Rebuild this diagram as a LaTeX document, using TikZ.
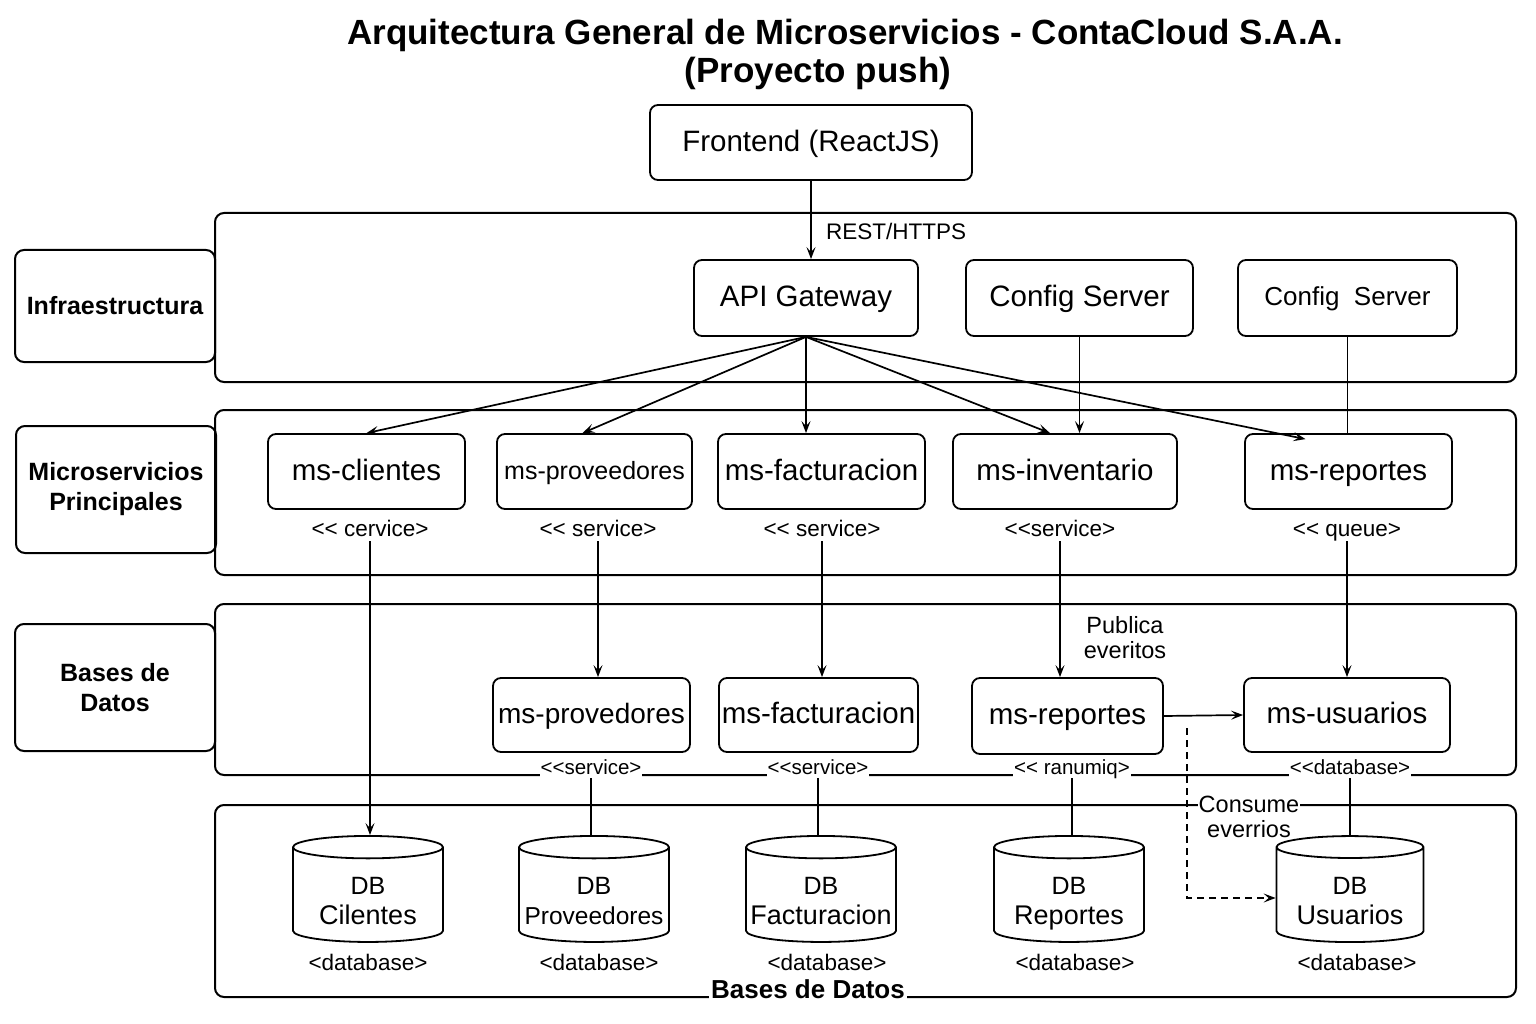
\documentclass[tikz,border=0pt]{standalone}
\usepackage{fontspec}
\setmainfont{Liberation Sans}
\usetikzlibrary{arrows.meta, shapes.geometric}

\begin{document}
\begin{tikzpicture}[x=1pt, y=-1pt,
  box/.style={draw, line width=1.8pt, rounded corners=8pt, align=center, inner sep=0pt},
  svc/.style={box, font=\fontsize{29.5}{33}\selectfont, text height=22pt, text depth=4.5pt},
  lane/.style={draw, line width=2pt, rounded corners=9pt, inner sep=0pt, minimum width=1301pt},
  lanelbl/.style={draw, line width=2pt, rounded corners=9pt, inner sep=0pt, align=center,
    minimum width=200pt, font=\bfseries\fontsize{25}{30}\selectfont},
  stereo/.style={font=\fontsize{22.5}{25}\selectfont, inner sep=1pt, text height=17pt, text depth=3.5pt},
  stereob/.style={stereo, font=\fontsize{20.5}{23}\selectfont, fill=white, text height=15.5pt, text depth=3pt},
  note/.style={font=\fontsize{23.5}{25}\selectfont, align=center, inner sep=1pt},
  arr/.style={line width=1.7pt, -{Stealth[length=12pt,width=9pt,inset=5pt]}},
  thin/.style={line width=1.4pt},
  db/.style={draw, cylinder, shape border rotate=90, aspect=0.16, line width=1.8pt,
    minimum width=150pt, minimum height=106pt, inner sep=0pt, text width=140pt},
  dbtxt/.style={align=center, inner sep=0pt, font=\fontsize{27}{30}\selectfont}]
  \useasboundingbox (0,0) rectangle (1536,1024);

  % titulo
  \node[font=\bfseries\fontsize{35}{38}\selectfont] (title1) at (845,35) {Arquitectura General de Microservicios - ContaCloud S.A.A.};
  \node[font=\bfseries\fontsize{35}{38}\selectfont] (title2) at (818,73) {(Proyecto push)};

  \node[svc, minimum width=322pt, minimum height=75pt] (front) at (811,142.5) {Frontend (ReactJS)};

  % carriles
  \node[lane, minimum height=169pt] (infra) at (865.5,297.5) {};
  \node[lane, minimum height=165pt] (micro) at (865.5,492.5) {};
  \node[lane, minimum height=171pt] (bdmid) at (865.5,689.5) {};
  \node[lane, minimum height=192pt] (bdlow) at (865.5,901) {};
  \node[lanelbl, minimum height=112pt] (infralbl) at (115,306) {Infraestructura};
  \node[lanelbl, minimum height=127pt] (microlbl) at (116,489.5) {Microservicios\\Principales};
  \node[lanelbl, minimum height=127pt] (bdlbl) at (115,687.5) {Bases de\\Datos};
  \node[fill=white, inner sep=2pt, font=\bfseries\fontsize{26}{28}\selectfont] (bdtitle) at (808,989) {Bases de Datos};

  % infraestructura
  \node[svc, minimum width=224pt, minimum height=76pt] (api) at (806,298) {API Gateway};
  \node[svc, minimum width=227pt, minimum height=76pt] (cfgA) at (1079.5,298) {Config Server};
  \node[box, minimum width=219pt, minimum height=76pt, font=\fontsize{26}{29}\selectfont,
    text height=19.5pt, text depth=4pt] (cfgB) at (1347.5,298) {Config\ \ Server};
  \node[stereo] (rest) at (896,233) {REST/HTTPS};

  % microservicios
  \node[svc, minimum width=197pt, minimum height=75pt] (mscli) at (366.5,471.5) {ms-clientes};
  \node[box, minimum width=195pt, minimum height=75pt, font=\fontsize{25}{28}\selectfont,
    text height=19pt, text depth=4pt] (msprov) at (594.5,471.5) {ms-proveedores};
  \node[svc, minimum width=207pt, minimum height=75pt] (msfact) at (821.5,471.5) {ms-facturacion};
  \node[svc, minimum width=224pt, minimum height=75pt] (msinv) at (1065,471.5) {ms-inventario};
  \node[svc, minimum width=207pt, minimum height=75pt] (msrep) at (1348.5,471.5) {ms-reportes};
  \node[stereo] (stcli) at (370,530) {<{}< cervice>};
  \node[stereo] (stprov) at (598,530) {<{}< service>};
  \node[stereo] (stfact) at (822,530) {<{}< service>};
  \node[stereo] (stinv) at (1060,530) {<{}<service>};
  \node[stereo] (strep) at (1347,530) {<{}< queue>};

  % bases de datos (capa media)
  \node[svc, minimum width=197pt, minimum height=74pt, font=\fontsize{28}{31}\selectfont] (dbprov) at (591.5,715) {ms-provedores};
  \node[svc, minimum width=199pt, minimum height=74pt] (dbfact) at (818.5,715) {ms-facturacion};
  \node[svc, minimum width=191pt, minimum height=76pt] (dbrep) at (1067.5,716) {ms-reportes};
  \node[svc, minimum width=206pt, minimum height=74pt] (dbusu) at (1347,715) {ms-usuarios};
  \node[stereob] (st2prov) at (591,768) {<{}<service>};
  \node[stereob] (st2fact) at (818,768) {<{}<service>};
  \node[stereob] (st2rep) at (1072,768) {<{}< ranumiq>};
  \node[stereob] (st2usu) at (1350,768) {<{}<database>};
  \node[note] (pub) at (1125,638) {Publica\\everitos};
  \node[note, fill=white] (cons) at (1249,817) {Consume\\everrios};

  % cilindros
  \node[db] (cylcli) at (368,895) {};
  \node[db] (cylprov) at (594,895) {};
  \node[db] (cylfact) at (821,895) {};
  \node[db] (cylrep) at (1069,895) {};
  \node[db, minimum width=147pt, text width=137pt] (cylusu) at (1350,895) {};
  \node[dbtxt] (txcli) at (368,904) {{\fontsize{25}{28}\selectfont DB\strut}\\Cilentes\strut};
  \node[dbtxt, font=\fontsize{24.5}{30}\selectfont] (txprov) at (594,904) {{\fontsize{25}{28}\selectfont DB\strut}\\Proveedores\strut};
  \node[dbtxt] (txfact) at (821,904) {{\fontsize{25}{28}\selectfont DB\strut}\\Facturacion\strut};
  \node[dbtxt] (txrep) at (1069,904) {{\fontsize{25}{28}\selectfont DB\strut}\\Reportes\strut};
  \node[dbtxt] (txusu) at (1350,904) {{\fontsize{25}{28}\selectfont DB\strut}\\Usuarios\strut};
  \node[stereo] (dbcli) at (368,964) {<database>};
  \node[stereo] (dbprv) at (599,964) {<database>};
  \node[stereo] (dbfac) at (827,964) {<database>};
  \node[stereo] (dbrp) at (1075,964) {<database>};
  \node[stereo] (dbus) at (1357,964) {<database>};

  % conexiones
  \draw[arr] (front.south) -- (front.south |- api.north);
  \draw[arr] (api.south) -- (mscli.north);
  \draw[arr] (api.south) -- ([xshift=-12pt]msprov.north);
  \draw[arr] (api.south) -- (api.south |- msfact.north);
  \draw[arr] (api.south) -- ([xshift=-15pt]msinv.north);
  \draw[arr] (api.south) -- ([xshift=-43pt,yshift=-6pt]msrep.north);
  \draw[arr] (cfgA.south) -- (cfgA.south |- msinv.north);
  \draw[thin] (cfgB.south) -- (cfgB.south |- msrep.north);

  \draw[arr, line width=1.4pt] (stcli.south) -- (stcli.south |- cylcli.north);
  \draw[arr, line width=1.4pt] (stprov.south) -- (stprov.south |- dbprov.north);
  \draw[arr, line width=1.4pt] (stfact.south) -- (stfact.south |- dbfact.north);
  \draw[arr, line width=1.4pt] (stinv.south) -- (stinv.south |- dbrep.north);
  \draw[arr, line width=1.4pt] (strep.south) -- (strep.south |- dbusu.north);
  \draw[arr] (dbrep.east) -- (dbusu.west);

  \draw[thin] (st2prov.south) -- (st2prov.south |- cylprov.north);
  \draw[thin] (st2fact.south) -- (st2fact.south |- cylfact.north);
  \draw[thin] (st2rep.south) -- (st2rep.south |- cylrep.north);
  \draw[thin] (st2usu.south) -- (st2usu.south |- cylusu.north);

  \coordinate (cnsA) at (1187,728);
  \draw[thin, dash pattern=on 7pt off 5pt, -{Stealth[length=12pt,width=9pt,inset=5pt]}] (cnsA) |- ([yshift=-3pt]cylusu.west);
\end{tikzpicture}
\end{document}
